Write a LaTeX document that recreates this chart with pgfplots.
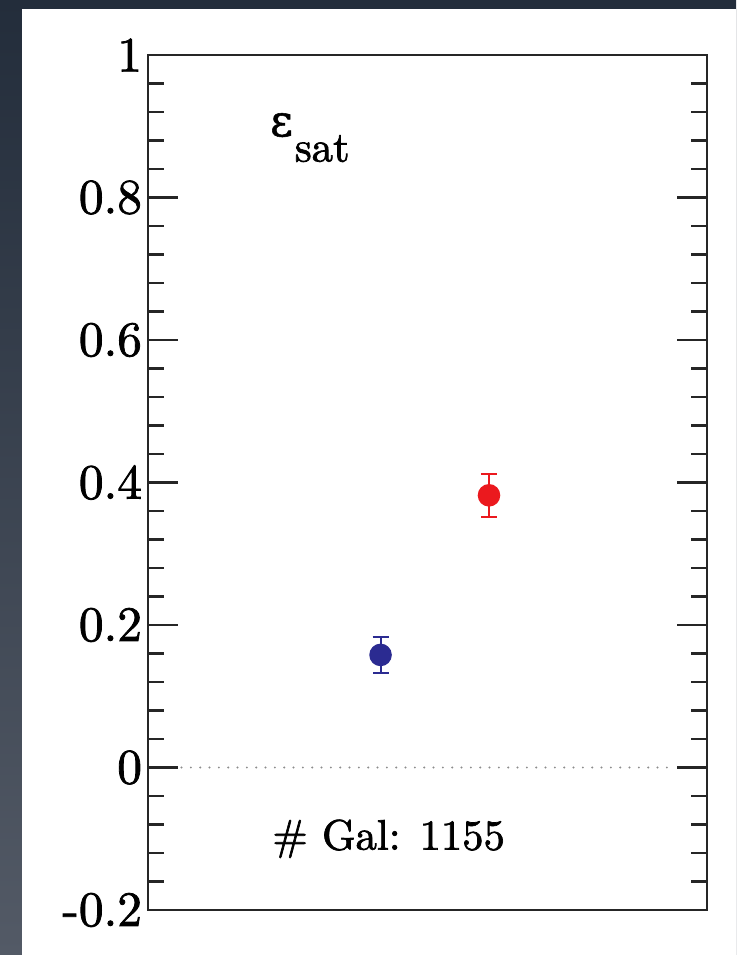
\documentclass[border=0pt]{standalone}
\usepackage{pgfplots}
\pgfplotsset{compat=1.18}
\usepackage{fontspec}
\newfontfamily\greekfont{DejaVu Serif}[FakeBold=1.2]
\newfontface\labfont{lmroman10-regular.otf}[FakeBold=1.6]
\definecolor{slatetop}{HTML}{232D3B}
\definecolor{slatebot}{HTML}{535A66}
\definecolor{ptblue}{HTML}{2B2B91}
\definecolor{ptred}{HTML}{EB191E}
\begin{document}
\begin{tikzpicture}
% slide backdrop and white panel
\useasboundingbox (0,0) rectangle (552pt,716.25pt);
\shade[top color=slatetop, bottom color=slatebot] (0,0) rectangle (552pt,716.25pt);
\fill[white] (16.5pt,0) rectangle (552pt,709.5pt);
\begin{axis}[
  at={(111pt,33.75pt)}, anchor=south west,
  scale only axis, width=419.25pt, height=641.25pt,
  xmin=0, xmax=1, ymin=-0.2, ymax=1,
  axis line style={line width=1.6pt, black!85},
  xtick=\empty,
  ytick={-0.2,0,0.2,0.4,0.6,0.8,1},
  yticklabels={-0.2,0,0.2,0.4,0.6,0.8,1},
  minor y tick num=4,
  ytick pos=both, tick align=inside,
  major tick length=22.5pt, minor tick length=12pt,
  every tick/.style={line width=1.6pt, black!85},
  yticklabel style={font=\labfont\fontsize{37}{42}\selectfont, xshift=-1pt},
  clip=false,
]
% zero reference line
\addplot[gray!90, line width=1.6pt, line cap=round, dash pattern=on 0pt off 7pt] coordinates {(0.06,0) (0.94,0)};
% blue point
\addplot[ptblue, line width=1.5pt, mark=*, mark size=7.7pt,
  error bars/.cd, y dir=both, y explicit,
  error bar style={line width=1.5pt},
  error mark options={rotate=90, mark size=6pt, line width=1.5pt}]
  coordinates {(0.416,0.158) +- (0,0.025)};
% red point
\addplot[ptred, line width=1.5pt, mark=*, mark size=7.7pt,
  error bars/.cd, y dir=both, y explicit,
  error bar style={line width=1.5pt},
  error mark options={rotate=90, mark size=6pt, line width=1.5pt}]
  coordinates {(0.61,0.382) +- (0,0.03)};
\node[anchor=base west, inner sep=0pt] at (axis cs:0.218,0.886)
  {{\greekfont\fontsize{33}{38}\selectfont ε}\hspace{1.5pt}\raisebox{-19pt}{\labfont\fontsize{32}{36}\selectfont sat}};
\node[anchor=west, inner sep=0pt, font=\labfont\fontsize{32}{38}\selectfont] at (axis cs:0.222,-0.10) {\# Gal: 1155};
\end{axis}
\end{tikzpicture}
\end{document}
